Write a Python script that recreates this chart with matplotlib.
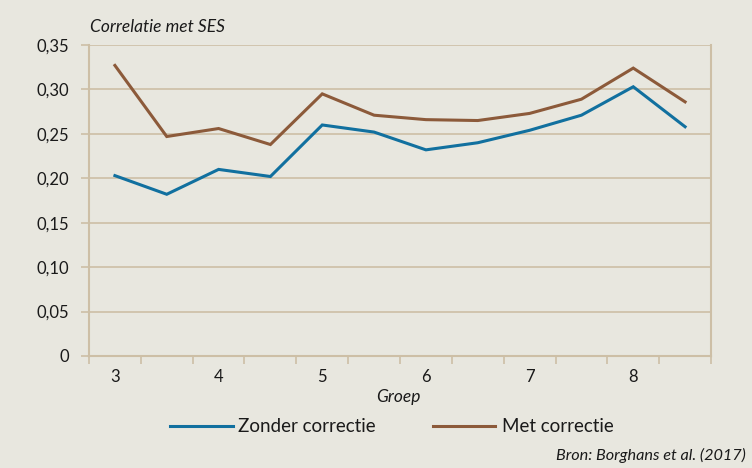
import matplotlib
matplotlib.use("Agg")
import matplotlib.pyplot as plt
from matplotlib.lines import Line2D

plt.rcParams['font.family'] = ['Lato', 'DejaVu Sans']

groups = ["3", "", "4", "", "5", "", "6", "", "7", "", "8", ""]
zonder = [0.203, 0.182, 0.210, 0.202, 0.260, 0.252, 0.232, 0.240, 0.254, 0.271, 0.303, 0.258]
met = [0.327, 0.247, 0.256, 0.238, 0.295, 0.271, 0.266, 0.265, 0.273, 0.289, 0.324, 0.286]
yticks = [0, 0.05, 0.10, 0.15, 0.20, 0.25, 0.30, 0.35]
ylabels = ["0", "0,05", "0,10", "0,15", "0,20", "0,25", "0,30", "0,35"]
series_names = ["Zonder correctie", "Met correctie"]

bg = "#E8E7DF"
grid = "#CDBFA6"
blue = "#11709F"
brown = "#8C5A3A"

W, H = 752, 468
fig = plt.figure(figsize=(W/100, H/100), dpi=100, facecolor=bg)
ax = fig.add_axes([89/W, 1-356/H, (711-89)/W, (356-45)/H], facecolor=bg)

x = list(range(len(groups)))
ax.plot(x, zonder, color=blue, lw=2.2, solid_joinstyle='miter')
ax.plot(x, met, color=brown, lw=2.2, solid_joinstyle='miter')

ax.set_xlim(-0.5, len(groups) - 0.5)
ax.set_ylim(0, 0.35)
ax.set_yticks(yticks)
ax.set_yticklabels(ylabels)
ax.yaxis.grid(True, color=grid, lw=1.2)
ax.set_axisbelow(True)

major = [i for i, g in enumerate(groups) if g]
ax.set_xticks(major)
ax.set_xticklabels([groups[i] for i in major])
ax.set_xticks([i - 0.5 for i in range(len(groups) + 1)], minor=True)
ax.tick_params(axis='x', which='major', length=0, pad=9, labelsize=12, labelcolor='#1a1a1a')
ax.tick_params(axis='x', which='minor', length=6, color=grid, width=1.2)
ax.tick_params(axis='y', length=6, color=grid, width=1.2, labelsize=12, labelcolor='#1a1a1a', pad=8)

for s in ['left', 'bottom', 'right']:
    ax.spines[s].set_color(grid)
    ax.spines[s].set_linewidth(1.5)
ax.spines['top'].set_visible(False)

fig.text(90/W, 1-27/H, "Correlatie met SES", style='italic', fontsize=12.5,
         va='center', ha='left', color='#1a1a1a')
fig.text(398/W, 1-397/H, "Groep", style='italic', fontsize=12.5,
         va='center', ha='center', color='#1a1a1a')

# legend drawn manually
ly = 1 - 426/H
for (x0, x1, tx), col, name in zip([(170, 233, 238), (433, 495, 502)], [blue, brown], series_names):
    fig.add_artist(Line2D([x0/W, x1/W], [ly, ly], color=col, lw=2.2, transform=fig.transFigure))
    fig.text(tx/W, ly, name, fontsize=13.5, va='center', ha='left', color='#1a1a1a')

fig.text(746/W, 1-455/H, "Bron: Borghans et al. (2017)", style='italic', fontsize=11.7,
         va='center', ha='right', color='#1a1a1a')

fig.savefig("out.png", dpi=100, facecolor=bg)
